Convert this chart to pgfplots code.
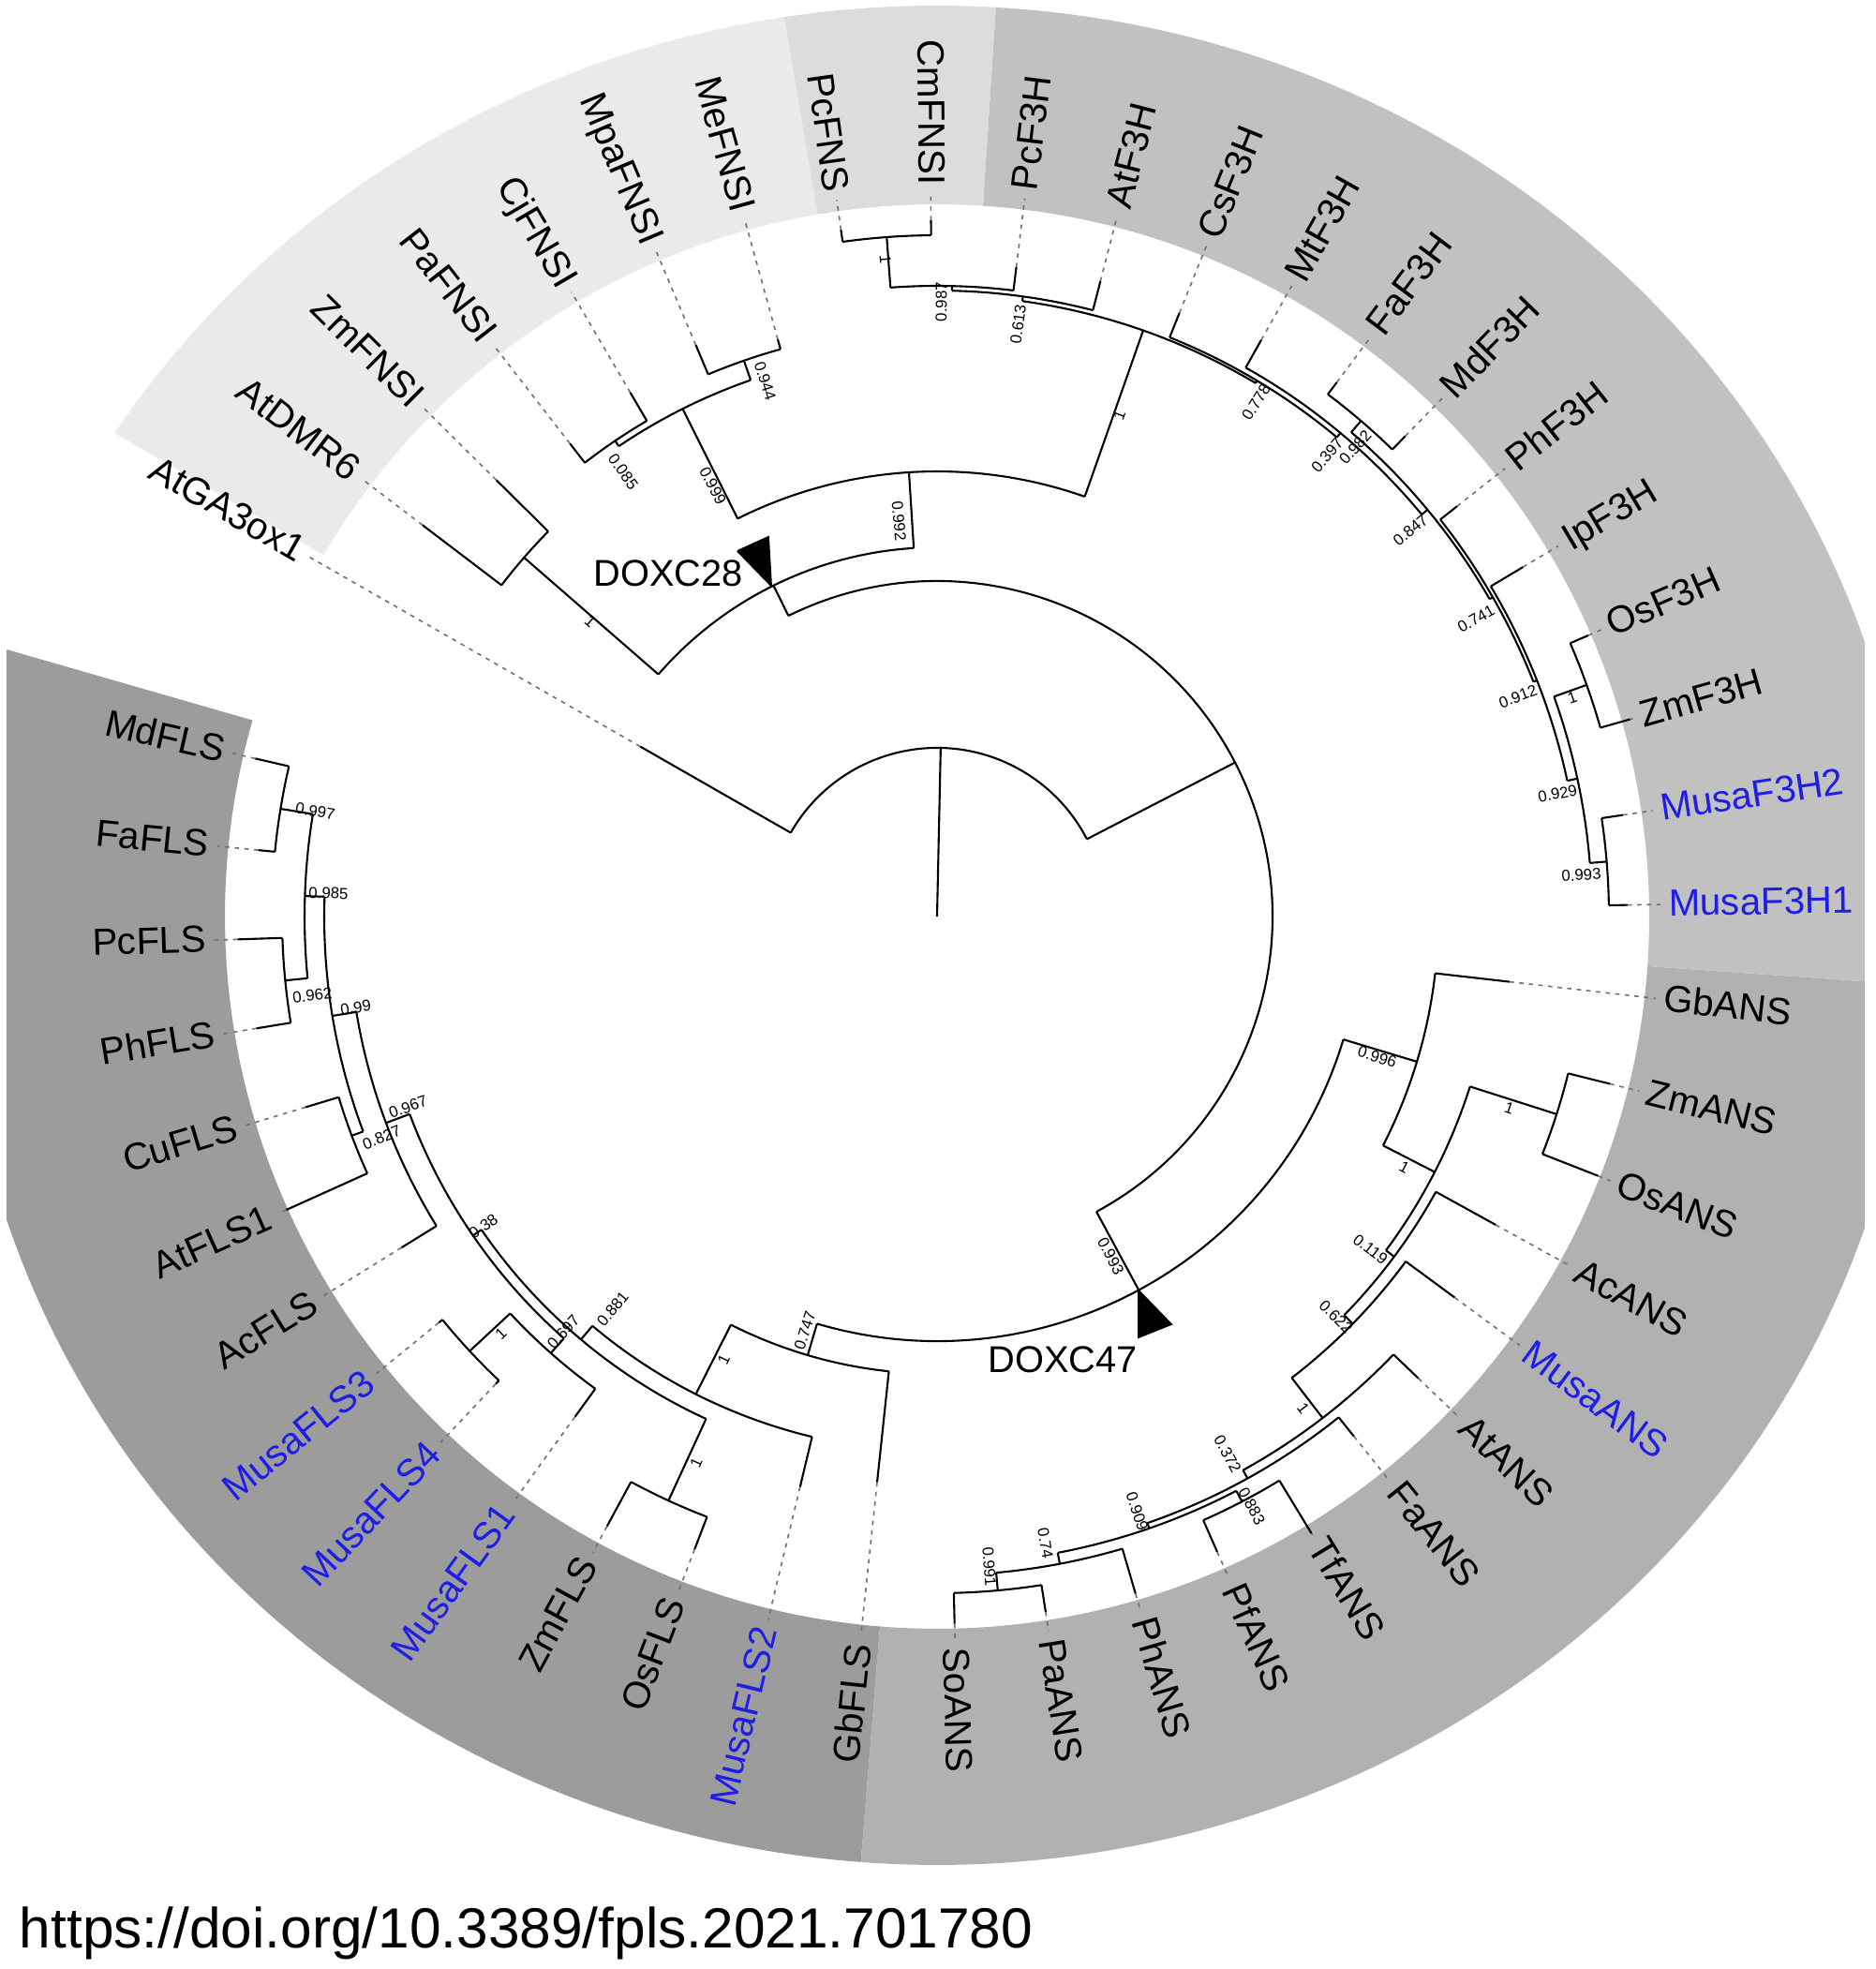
\documentclass[border=0pt]{standalone}
\usepackage{pgfplots}
\pgfplotsset{compat=1.18}
\usepackage{fontspec}
\setmainfont{Liberation Sans}
\definecolor{blu}{RGB}{30,30,230}
\definecolor{ringA}{HTML}{E9EAEA}
\definecolor{ringB}{HTML}{DCDCDC}
\definecolor{ringC}{HTML}{C1C1C1}
\definecolor{ringD}{HTML}{B1B1B1}
\definecolor{ringE}{HTML}{9C9C9C}
\def\un{0.0075cm}
\tikzset{
 br/.style={black,line width=0.45pt},
 ld/.style={black!55,line width=0.35pt,dash pattern=on 1pt off 1.2pt},
 lab/.style={font=\fontsize{8.6}{10}\selectfont,inner sep=0pt},
 bs/.style={font=\fontsize{3.6}{4}\selectfont,inner sep=0pt},
}
% ring sector: inner angles (from, to), outer parametric angles (from, to), colour
\newcommand{\sect}[5]{\fill[#5] (axis cs:{760*cos(#1)},{760*sin(#1)}) arc[start angle=#1,end angle=#2,radius=760*\un] -- (axis cs:{1043*cos(#4)},{-20+992*sin(#4)}) arc[start angle=#4,end angle=#3,x radius=1043*\un,y radius=992*\un] -- cycle;}
% internal node: angle, parent radius, node radius, arc from, arc to
\newcommand{\N}[5]{\addplot[br,data cs=polar] coordinates {(#1,#2) (#1,#3)};
 \draw[br] (axis cs:{#3*cos(#4)},{#3*sin(#4)}) arc[start angle=#4,end angle=#5,radius=#3*\un];}
% leaves: angle, parent radius, tip radius, name, colour
\newcommand{\LR}[5]{\addplot[br,data cs=polar] coordinates {(#1,#2) (#1,#3)};
 \addplot[ld,data cs=polar] coordinates {(#1,#3) (#1,772)};
 \node[lab,text=#5,anchor=mid west,rotate=#1] at (axis cs:{780*cos(#1)},{780*sin(#1)}) {#4};}
\newcommand{\LL}[5]{\addplot[br,data cs=polar] coordinates {(#1,#2) (#1,#3)};
 \addplot[ld,data cs=polar] coordinates {(#1,#3) (#1,772)};
 \node[lab,text=#5,anchor=mid east,rotate=#1+180] at (axis cs:{780*cos(#1)},{780*sin(#1)}) {#4};}
% support values: angle, radius, text
\newcommand{\BR}[3]{\node[bs,rotate=#1] at (axis cs:{#2*cos(#1)},{#2*sin(#1)}) {#3};}
\newcommand{\BL}[3]{\node[bs,rotate=#1+180] at (axis cs:{#2*cos(#1)},{#2*sin(#1)}) {#3};}
\begin{document}
\begin{tikzpicture}
\begin{axis}[x=0.0075cm,y=0.0075cm,scale only axis,hide axis,no markers,
  xmin=-1000,xmax=1001,ymin=-1123,ymax=978,clip=true]
\coordinate (BL) at (rel axis cs:0,0);
\coordinate (TR) at (rel axis cs:1,1);
% coloured ring
\begin{scope}
\clip (axis cs:-993,-1123) rectangle (axis cs:990,978);
\sect{149.5}{99.65}{147.3}{99.0}{ringA}
\sect{99.65}{86.3}{99.0}{86.55}{ringB}
\sect{86.3}{-4}{86.55}{-3.05}{ringC}
\sect{-4}{-94.6}{-3.05}{-94.47}{ringD}
\sect{-94.6}{-196}{-94.47}{-197.9}{ringE}
\end{scope}
% root
\addplot[br,data cs=polar] coordinates {(88.77,0) (88.77,180)};
\draw[br] (axis cs:{180*cos(150.2)},{180*sin(150.2)}) arc[start angle=150.2,end angle=27.33,radius=180*\un];
% internal nodes
\N{27.33}{180}{358}{116.3}{-61.63}
\N{116.3}{358}{394}{139.01}{93.62}
\N{139.01}{394}{584}{142.74}{135.28}
\N{93.62}{394}{475}{116.62}{70.62}
\N{116.62}{475}{606}{124.09}{109.16}
\N{124.09}{606}{613}{127.82}{120.35}
\N{109.16}{606}{628}{112.89}{105.43}
\N{70.62}{475}{663}{82.11}{59.14}
\N{82.11}{663}{668}{88.64}{75.58}
\N{88.64}{668}{673}{94.24}{83.04}
\N{94.24}{673}{727}{97.97}{90.5}
\N{59.14}{663}{666}{68.12}{50.16}
\N{50.16}{666}{672}{60.65}{39.67}
\N{39.67}{672}{680}{49.46}{29.88}
\N{49.46}{680}{696}{53.19}{45.73}
\N{29.88}{680}{684}{38.27}{21.49}
\N{21.49}{684}{688}{30.81}{12.16}
\N{12.16}{688}{699}{19.62}{4.69}
\N{19.62}{699}{736}{23.35}{15.89}
\N{4.69}{699}{717}{8.42}{0.96}
\N{-61.63}{358}{453}{-16.83}{-106.43}
\N{-16.83}{453}{535}{-6.5}{-27.17}
\N{-27.17}{535}{597}{-17.69}{-36.64}
\N{-17.69}{597}{694}{-13.96}{-21.42}
\N{-36.64}{597}{608}{-28.89}{-44.4}
\N{-44.4}{608}{621}{-36.35}{-52.44}
\N{-52.44}{621}{675}{-43.81}{-61.07}
\N{-61.07}{675}{685}{-51.27}{-70.87}
\N{-70.87}{685}{691}{-62.47}{-79.26}
\N{-62.47}{691}{704}{-58.74}{-66.2}
\N{-79.26}{691}{703}{-73.66}{-84.85}
\N{-84.85}{703}{722}{-81.12}{-88.58}
\N{-106.43}{453}{488}{-96.05}{-116.8}
\N{-116.8}{488}{571}{-103.51}{-130.1}
\N{-130.1}{571}{590}{-114.7}{-145.5}
\N{-114.7}{590}{686}{-110.97}{-118.43}
\N{-145.5}{590}{601}{-131.5}{-159.47}
\N{-131.5}{601}{622}{-125.9}{-137.09}
\N{-137.09}{622}{681}{-133.36}{-140.82}
\N{-159.47}{601}{628}{-148.28}{-170.67}
\N{-170.67}{628}{654}{-159.47}{-181.86}
\N{-159.47}{654}{667}{-155.74}{-163.2}
\N{-181.86}{654}{675}{-174.4}{-189.32}
\N{-174.4}{675}{699}{-170.67}{-178.13}
\N{-189.32}{675}{710}{-185.59}{-193.05}
% leaves
\LL{150.2}{180}{365}{AtGA3ox1}{black}
\LL{142.74}{584}{690}{AtDMR6}{black}
\LL{135.28}{584}{662}{ZmFNSI}{black}
\LL{127.82}{613}{639}{PaFNSI}{black}
\LL{120.35}{613}{648}{CjFNSI}{black}
\LL{112.89}{628}{662}{MpaFNSI}{black}
\LL{105.43}{628}{639}{MeFNSI}{black}
\LL{97.97}{727}{740}{PcFNS}{black}
\LL{90.5}{727}{743}{CmFNSI}{black}
\LR{83.04}{673}{698}{PcF3H}{black}
\LR{75.58}{668}{700}{AtF3H}{black}
\LR{68.12}{666}{694}{CsF3H}{black}
\LR{60.65}{672}{706}{MtF3H}{black}
\LR{53.19}{696}{712}{FaF3H}{black}
\LR{45.73}{696}{716}{MdF3H}{black}
\LR{38.27}{684}{707}{PhF3H}{black}
\LR{30.81}{688}{728}{IpF3H}{black}
\LR{23.35}{736}{757}{OsF3H}{black}
\LR{15.89}{736}{769}{ZmF3H}{black}
\LR{8.42}{717}{740}{MusaF3H2}{blu}
\LR{0.96}{717}{737}{MusaF3H1}{blu}
\LR{-6.5}{535}{615}{GbANS}{black}
\LR{-13.96}{694}{740}{ZmANS}{black}
\LR{-21.42}{694}{758}{OsANS}{black}
\LR{-28.89}{608}{681}{AcANS}{black}
\LR{-36.35}{621}{686}{MusaANS}{blu}
\LR{-43.81}{675}{712}{AtANS}{black}
\LR{-51.27}{685}{711}{FaANS}{black}
\LR{-58.74}{704}{770}{TfANS}{black}
\LR{-66.2}{704}{741}{PfANS}{black}
\LR{-73.66}{703}{753}{PhANS}{black}
\LR{-81.12}{722}{751}{PaANS}{black}
\LR{-88.58}{722}{755}{SoANS}{black}
\LL{-96.05}{488}{607}{GbFLS}{black}
\LL{-103.51}{571}{626}{MusaFLS2}{blu}
\LL{-110.97}{686}{723}{OsFLS}{black}
\LL{-118.43}{686}{740}{ZmFLS}{black}
\LL{-125.9}{622}{659}{MusaFLS1}{blu}
\LL{-133.36}{681}{686}{MusaFLS4}{blu}
\LL{-140.82}{681}{686}{MusaFLS3}{blu}
\LL{-148.28}{628}{672}{AcFLS}{black}
\LL{-155.74}{667}{762}{AtFLS1}{black}
\LL{-163.2}{667}{704}{CuFLS}{black}
\LL{-170.67}{699}{736}{PhFLS}{black}
\LL{-178.13}{699}{747}{PcFLS}{black}
\LL{-185.59}{710}{728}{FaFLS}{black}
\LL{-193.05}{710}{747}{MdFLS}{black}
% support values
\BL{139.6}{486}{1}
\BL{125.2}{581}{0.085}
\BL{117.5}{518}{0.999}
\BL{107.8}{600}{0.944}
\BL{95.5}{424}{0.992}
\BL{94.5}{703}{1}
\BR{89.6}{656}{0.987}
\BR{82.2}{638}{0.613}
\BR{70.0}{569}{1}
\BR{58.2}{646}{0.778}
\BR{49.8}{645}{0.397}
\BR{48.3}{671}{0.982}
\BR{39.2}{652}{0.847}
\BR{28.9}{657}{0.741}
\BR{20.75}{663}{0.912}
\BR{19.0}{717}{1}
\BR{11.2}{675}{0.929}
\BR{3.7}{689}{0.993}
\BR{-17.7}{493}{0.996}
\BR{-28.2}{566}{1}
\BR{-18.5}{644}{1}
\BR{-37.5}{583}{0.119}
\BR{-45.1}{603}{0.622}
\BR{-53.3}{654}{1}
\BR{-61.6}{652}{0.372}
\BR{-61.9}{713}{0.883}
\BR{-71.4}{670}{0.909}
\BR{-80.2}{679}{0.74}
\BR{-85.4}{696}{0.991}
\BR{-62.9}{407}{0.993}
\BL{-107.7}{464}{0.747}
\BL{-115.7}{525}{1}
\BL{-129.6}{543}{0.881}
\BL{-113.8}{637}{1}
\BL{-132}{596}{0.697}
\BL{-136.3}{644}{1}
\BL{-145.7}{586}{0.38}
\BL{-160.2}{600}{0.967}
\BL{-158.3}{638}{0.827}
\BL{-171.1}{628}{0.99}
\BL{-172.8}{672}{0.962}
\BL{177.8}{650}{0.985}
\BL{170.4}{673}{0.997}
% clade markers
\addplot[black,fill=black] coordinates {(-213,390) (-180,405) (-177,353) (-213,390)};
\addplot[black,fill=black] coordinates {(215,-399) (215,-449) (250,-435) (215,-399)};
\node[font=\fontsize{8.5}{10}\selectfont,inner sep=0pt] at (axis cs:-287,366) {DOXC28};
\node[font=\fontsize{8.5}{10}\selectfont,inner sep=0pt] at (axis cs:134,-473) {DOXC47};
\node[anchor=base west,inner sep=0pt,font=\fontsize{12.9}{15}\selectfont] at (axis cs:-980,-1100) {https://doi.org/10.3389/fpls.2021.701780};
\end{axis}
\pgfresetboundingbox
\useasboundingbox (BL) rectangle (TR);
\end{tikzpicture}
\end{document}
